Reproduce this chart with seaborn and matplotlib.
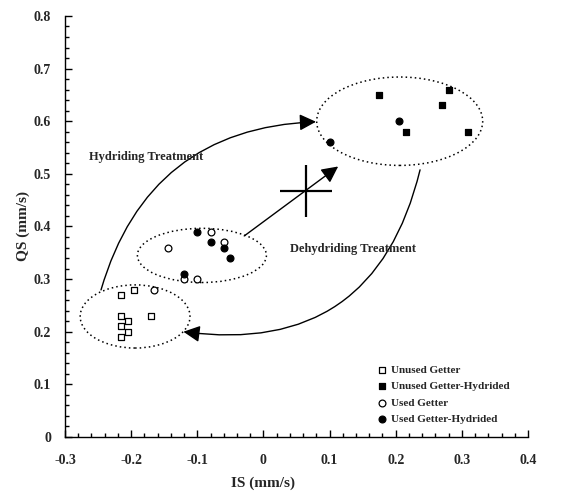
import numpy as np
import pandas as pd
import matplotlib
matplotlib.use('Agg')
import matplotlib.pyplot as plt
import seaborn as sns
from matplotlib.patches import Ellipse
from matplotlib.ticker import MultipleLocator

# dane
unused_is = [-0.215, -0.195, -0.17, -0.215, -0.205, -0.215, -0.205, -0.215]
unused_qs = [0.27, 0.28, 0.23, 0.23, 0.22, 0.21, 0.20, 0.19]

unused_h_is = [0.175, 0.28, 0.27, 0.215, 0.31]
unused_h_qs = [0.65, 0.66, 0.63, 0.58, 0.58]

used_is = [-0.08, -0.06, -0.145, -0.12, -0.10, -0.165]
used_qs = [0.39, 0.37, 0.36, 0.30, 0.30, 0.28]

used_h_is = [-0.10, -0.08, -0.06, -0.05, -0.12, 0.205, 0.10]
used_h_qs = [0.39, 0.37, 0.36, 0.34, 0.31, 0.60, 0.56]

series_labels = ['Unused Getter', 'Unused Getter-Hydrided', 'Used Getter', 'Used Getter-Hydrided']

sns.set_style('ticks')
plt.rcParams['font.family'] = ['Liberation Serif', 'DejaVu Serif']
plt.rcParams['font.weight'] = 'bold'
plt.rcParams['axes.labelweight'] = 'bold'
plt.rcParams['axes.unicode_minus'] = False

fig = plt.figure(figsize=(5.64, 4.96), dpi=100)
ax = fig.add_axes([0.1152, 0.119, 0.821, 0.8488])

# 1. Punkty pomiarowe
groups = [
    (unused_is, unused_qs, 's', 'white'),
    (unused_h_is, unused_h_qs, 's', 'black'),
    (used_is, used_qs, 'o', 'white'),
    (used_h_is, used_h_qs, 'o', 'black'),
]
for (xs, ys, mk, fc), lab in zip(groups, series_labels):
    df = pd.DataFrame({'IS': xs, 'QS': ys})
    sns.scatterplot(data=df, x='IS', y='QS', marker=mk, s=24, facecolor=fc,
                    edgecolor='black', linewidth=0.9, label=lab, ax=ax, zorder=3)

# 2. Elipsy grup
for cx, cy, w, h in [(-0.194, 0.229, 0.166, 0.12), (-0.093, 0.345, 0.195, 0.103), (0.206, 0.60, 0.251, 0.168)]:
    ax.add_patch(Ellipse((cx, cy), w, h, fill=False, edgecolor='black', lw=1.1, linestyle=(0, (1, 2))))

# 3. Strzałki
arrow = dict(arrowstyle='-|>', color='black', lw=1.0, mutation_scale=25, shrinkA=0, shrinkB=0)
ax.annotate('', xy=(0.0795, 0.599), xytext=(-0.2455, 0.2795),
            arrowprops=dict(arrow, connectionstyle='arc3,rad=-0.36'))
ax.annotate('', xy=(-0.121, 0.20), xytext=(0.2368, 0.5076),
            arrowprops=dict(arrow, connectionstyle='arc3,rad=-0.45'))
ax.annotate('', xy=(0.113, 0.514), xytext=(-0.029, 0.382), arrowprops=arrow)
ax.plot([0.065], [0.468], marker='+', markersize=38, mew=1.6, color='black')

ax.text(-0.263, 0.532, 'Hydriding Treatment', fontsize=9, fontweight='bold', va='center')
ax.text(0.04, 0.358, 'Dehydriding Treatment', fontsize=9, fontweight='bold', va='center')

# 4. Osie
ax.set_xlim(-0.3, 0.4)
ax.set_ylim(0, 0.8)
ax.xaxis.set_major_locator(MultipleLocator(0.1))
ax.xaxis.set_minor_locator(MultipleLocator(0.02))
ax.yaxis.set_major_locator(MultipleLocator(0.1))
ax.yaxis.set_minor_locator(MultipleLocator(0.02))
ax.set_xticks(np.round(np.arange(-0.3, 0.41, 0.1), 1))
ax.set_xticklabels(['-0.3', '-0.2', '-0.1', '0', '0.1', '0.2', '0.3', '0.4'])
ax.set_yticks(np.round(np.arange(0, 0.81, 0.1), 1))
ax.set_yticklabels(['0', '0.1', '0.2', '0.3', '0.4', '0.5', '0.6', '0.7', '0.8'])
ax.tick_params(which='major', direction='in', length=5, width=1, labelsize=10, color='black')
ax.tick_params(which='minor', direction='in', length=3, width=1, color='black')
ax.tick_params(axis='x', which='major', pad=12)
ax.tick_params(axis='y', which='major', pad=10)
for lbl in ax.get_xticklabels() + ax.get_yticklabels():
    lbl.set_fontweight('bold')
sns.despine(ax=ax)
for sp in ax.spines.values():
    sp.set_color('black')
    sp.set_linewidth(1)

ax.set_xlabel('IS (mm/s)', fontsize=11, fontweight='bold', labelpad=4)
ax.set_ylabel('QS (mm/s)', fontsize=11, fontweight='bold', labelpad=3)
ax.xaxis.set_label_coords(3 / 7, -0.095)

leg = ax.legend(loc='lower left', bbox_to_anchor=(0.66, 0.012), frameon=False,
                handlelength=0.6, handletextpad=0.5, labelspacing=0.6, borderpad=0.2,
                prop={'weight': 'bold', 'size': 8})

fig.savefig('out.png', dpi=100)
